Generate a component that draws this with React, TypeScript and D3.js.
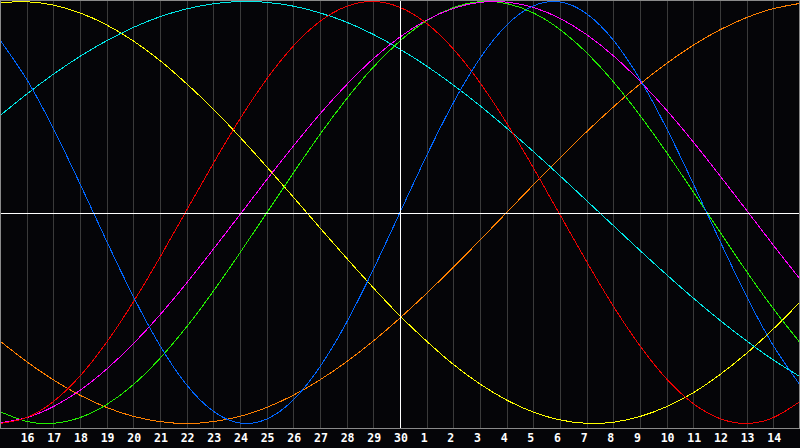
import { curveNatural, line, scaleLinear } from 'd3';

// Biorhythm-style chart: 7 cycles over a 30-day window, values in [-1, 1]
// read at each day gridline (index 0..30).

const dayLabels = [
  '16', '17', '18', '19', '20', '21', '22', '23', '24', '25', '26', '27', '28', '29', '30',
  '1', '2', '3', '4', '5', '6', '7', '8', '9', '10', '11', '12', '13', '14',
];

const yellow = [
  0.994, 0.999, 0.983, 0.946, 0.889, 0.813, 0.72, 0.61, 0.49, 0.357, 0.217, 0.073, -0.073, -0.217, -0.357,
  -0.49, -0.61, -0.72, -0.813, -0.889, -0.946, -0.983, -0.999, -0.994, -0.967, -0.92, -0.854, -0.768, -0.667, -0.552,
  -0.425,
];
const cyan = [
  0.459, 0.561, 0.655, 0.74, 0.814, 0.877, 0.928, 0.965, 0.989, 1.0, 0.996, 0.978, 0.946, 0.902, 0.844,
  0.774, 0.694, 0.604, 0.506, 0.4, 0.289, 0.174, 0.056, -0.062, -0.18, -0.295, -0.406, -0.511, -0.609, -0.699,
  -0.778,
];
const blue = [
  0.817, 0.631, 0.398, 0.136, -0.136, -0.398, -0.631, -0.817, -0.942, -0.998, -0.979, -0.888, -0.731, -0.52, -0.27,
  0, 0.27, 0.52, 0.731, 0.888, 0.979, 0.998, 0.942, 0.817, 0.631, 0.398, 0.136, -0.136, -0.398, -0.631,
  -0.817,
];
const red = [
  -1.0, -0.972, -0.896, -0.775, -0.615, -0.424, -0.212, 0.011, 0.233, 0.444, 0.632, 0.789, 0.906, 0.977, 1.0,
  0.972, 0.896, 0.775, 0.615, 0.424, 0.212, -0.011, -0.233, -0.444, -0.632, -0.789, -0.906, -0.977, -1.0, -0.972,
  -0.896,
];
const magenta = [
  -0.997, -0.972, -0.92, -0.843, -0.742, -0.622, -0.485, -0.334, -0.174, -0.01, 0.155, 0.315, 0.467, 0.606, 0.729,
  0.832, 0.912, 0.967, 0.996, 0.997, 0.972, 0.92, 0.843, 0.743, 0.622, 0.485, 0.334, 0.174, 0.01, -0.155,
  -0.315,
];
const green = [
  -0.944, -0.99, -0.999, -0.972, -0.91, -0.816, -0.691, -0.542, -0.373, -0.191, -0.002, 0.187, 0.37, 0.539, 0.689,
  0.813, 0.909, 0.971, 0.999, 0.99, 0.946, 0.867, 0.757, 0.62, 0.46, 0.284, 0.097, -0.093, -0.28, -0.456,
  -0.617,
];
const orange = [
  -0.609, -0.707, -0.793, -0.866, -0.924, -0.966, -0.991, -1.0, -0.991, -0.966, -0.924, -0.866, -0.793, -0.707, -0.609,
  -0.5, -0.383, -0.259, -0.131, 0, 0.131, 0.259, 0.383, 0.5, 0.609, 0.707, 0.793, 0.866, 0.924, 0.966,
  0.991,
];

const series = [
  { values: orange, color: '#ff8000' },
  { values: yellow, color: '#ffff00' },
  { values: cyan, color: '#00e8e8' },
  { values: green, color: '#22ee00' },
  { values: magenta, color: '#ff00ff' },
  { values: red, color: '#ee0000' },
  { values: blue, color: '#0066ff' },
];

export default function App() {
  const W = 800;
  const plotH = 428;
  const x = scaleLinear().domain([0, 30]).range([0, W]);
  const y = scaleLinear().domain([-1, 1]).range([423.5, 1.5]);
  const ln = line<number>()
    .x((_d, i) => x(i))
    .y((d) => y(d))
    .curve(curveNatural);
  const mid = Math.round(y(0)) + 0.5;
  const center = Math.round(x(15)) + 0.5;

  return (
    <svg
      width={W}
      height={448}
      viewBox={`0 0 ${W} 448`}
      style={{ position: 'fixed', left: 0, top: 0, display: 'block', background: '#050508' }}
    >
      <rect x={0} y={0} width={W} height={448} fill="#050508" />
      {dayLabels.map((_l, k) => {
        const gx = Math.round(x(k + 1)) + 0.5;
        return <line key={k} x1={gx} x2={gx} y1={0} y2={plotH} stroke="#3a3a3a" strokeWidth={1} shapeRendering="crispEdges" />;
      })}
      {series.map((s, k) => (
        <path key={k} d={ln(s.values) ?? undefined} fill="none" stroke={s.color} strokeWidth={1} shapeRendering="crispEdges" />
      ))}
      <line x1={0} x2={W} y1={mid} y2={mid} stroke="#ffffff" strokeWidth={1} shapeRendering="crispEdges" />
      <line x1={center} x2={center} y1={0} y2={plotH} stroke="#ffffff" strokeWidth={1} shapeRendering="crispEdges" />
      <rect x={0.5} y={0.5} width={W - 1} height={plotH} fill="none" stroke="#8a8a8a" strokeWidth={1} shapeRendering="crispEdges" />
      {dayLabels.map((l, k) => (
        <text
          key={l + k}
          x={x(k + 1) - 6}
          y={442}
          fill="#ffffff"
          style={{ fontFamily: '"DejaVu Sans Mono", monospace', fontSize: 11.5, fontWeight: 700 }}
        >
          {l}
        </text>
      ))}
    </svg>
  );
}
